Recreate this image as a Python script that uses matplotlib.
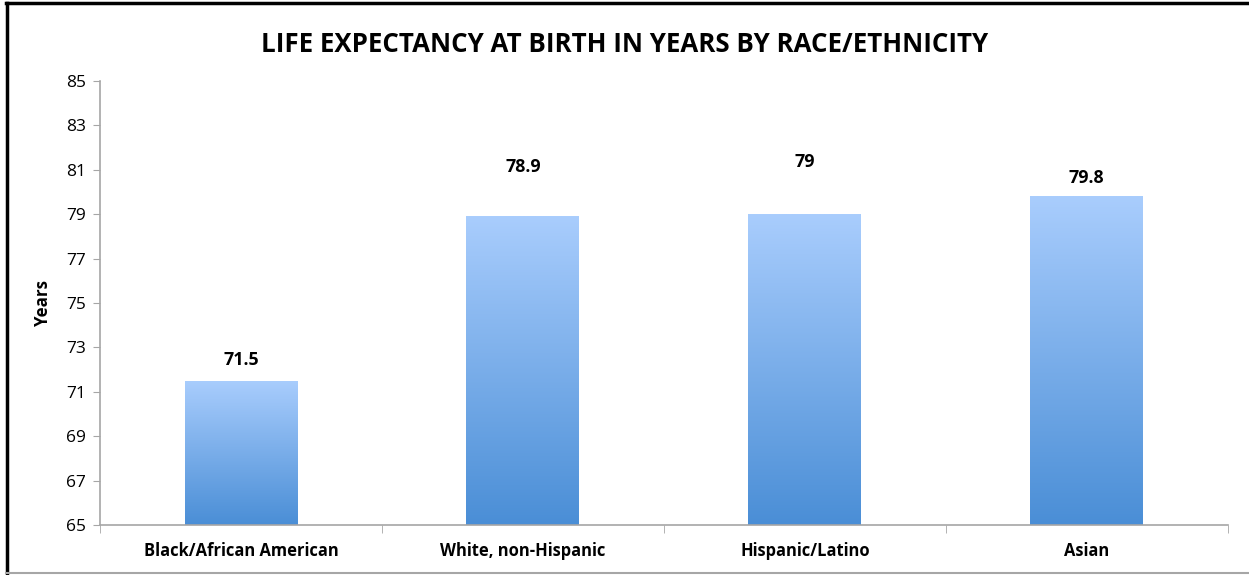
import numpy as np
import matplotlib
matplotlib.use("Agg")
import matplotlib.pyplot as plt
from matplotlib.colors import LinearSegmentedColormap
from matplotlib.lines import Line2D

plt.rcParams['font.family'] = ['Open Sans', 'DejaVu Sans']

categories = ["Black/African American", "White, non-Hispanic", "Hispanic/Latino", "Asian"]
years = [71.5, 78.9, 79.0, 79.8]
value_labels = ["71.5", "78.9", "79", "79.8"]
# the labels sit at uneven heights above the bars in the original (points)
label_offsets = [8.5, 29, 31, 7]
y_ticks = list(range(65, 86, 2))

fig = plt.figure(figsize=(12.49, 5.75), dpi=100)
ax = fig.add_axes([0.080, 0.087, 0.903, 0.772])

x = np.arange(len(categories))
bars = ax.bar(x, years, width=0.4, bottom=0, color='none')

grad = LinearSegmentedColormap.from_list("blues", ["#4a8ed6", "#a9cdfd"])
ramp = np.linspace(0, 1, 256).reshape(-1, 1)
for b in bars:
    x0, w, h = b.get_x(), b.get_width(), b.get_height()
    im = ax.imshow(ramp, cmap=grad, origin='lower', aspect='auto',
                   extent=[x0, x0 + w, 65, h], zorder=2)
    im.set_clip_path(b)

ax.set_xlim(-0.5, len(categories) - 0.5)
ax.set_ylim(65, 85)
ax.set_yticks(y_ticks)
ax.set_xticks(x)
ax.set_xticklabels(categories, fontsize=11.9, fontweight='bold')
ax.tick_params(axis='y', labelsize=12.5, length=5, color='#a6a6a6', pad=5)
ax.tick_params(axis='x', length=0, pad=12)
# category separator ticks on the x axis
ax.set_xticks(np.arange(len(categories) + 1) - 0.5, minor=True)
ax.tick_params(axis='x', which='minor', length=6, color='#a6a6a6', direction='out')

for s in ['top', 'right']:
    ax.spines[s].set_visible(False)
for s in ['left', 'bottom']:
    ax.spines[s].set_color('#a6a6a6')
    ax.spines[s].set_linewidth(1.2)

for xi, v, lab, off in zip(x, years, value_labels, label_offsets):
    ax.annotate(lab, (xi, v), xytext=(0, off), textcoords='offset points',
                ha='center', va='bottom', fontsize=12.8, fontweight='bold')

ax.set_ylabel("Years", fontsize=12.2, fontweight='bold', labelpad=10)
fig.text(0.5, 0.922, "LIFE EXPECTANCY AT BIRTH IN YEARS BY RACE/ETHNICITY",
         ha='center', va='center', fontsize=18.6, fontweight='bold')

# frame around the picture
fig.add_artist(Line2D([0.006, 0.006], [0.0, 0.995], color='black', lw=2.5, transform=fig.transFigure))
fig.add_artist(Line2D([0.005, 1.0], [0.994, 0.994], color='black', lw=2.5, transform=fig.transFigure))
fig.add_artist(Line2D([0.005, 1.0], [0.003, 0.003], color='#a6a6a6', lw=1.5, transform=fig.transFigure))

fig.savefig("out.png", dpi=100)
